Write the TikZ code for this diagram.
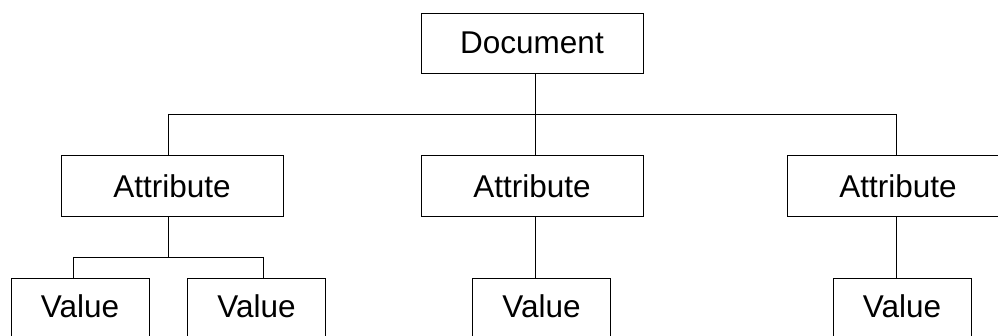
\documentclass[tikz,border=0pt]{standalone}
\usepackage{fontspec}
\setmainfont{Liberation Sans}
\begin{document}
\begin{tikzpicture}[x=1pt,y=-1pt,
  label/.style={font=\fontsize{31.5}{36}\selectfont},
  box/.style={draw=black,line width=0.8pt,inner sep=0pt,label},
  docbox/.style={box,minimum width=222pt,minimum height=60pt},
  attrbox/.style={box,minimum width=222pt,minimum height=61pt},
  valbox/.style={box,minimum width=138pt,minimum height=90pt},
  link/.style={draw=black,line width=0.8pt}]
\useasboundingbox (0,0) rectangle (998,336);
\clip (0,0) rectangle (998,336);
% top level
\node[docbox] (doc) at (532,43) {Document};
% attributes
\node[attrbox] (a1) at (172,186) {Attribute};
\node[attrbox] (a2) at (532,186) {Attribute};
\node[attrbox] (a3) at (898,186) {Attribute};
% values (lower edge runs off the page)
\node[valbox,anchor=north] (v1) at (80,278) {};
\node[valbox,anchor=north] (v2) at (256.5,278) {};
\node[valbox,anchor=north] (v3) at (541.5,278) {};
\node[valbox,anchor=north] (v4) at (902,278) {};
\node[label] (t1) at (80,306) {Value};
\node[label] (t2) at (256.5,306) {Value};
\node[label] (t3) at (541.5,306) {Value};
\node[label] (t4) at (902,306) {Value};
% connector junction points
\coordinate (j0) at (535,114);
\coordinate (jL) at (168,114);
\coordinate (jR) at (896,114);
\coordinate (k1) at (73,257);
\coordinate (k2) at (263,257);
\coordinate (kc) at (168,257);
% document to attributes
\draw[link] (doc.south -| j0) -- (j0);
\draw[link] (jL) -- (jR);
\draw[link] (jL) -- (a1.north -| jL);
\draw[link] (j0) -- (a2.north -| j0);
\draw[link] (jR) -- (a3.north -| jR);
% attributes to values
\draw[link] (a1.south -| kc) -- (kc);
\draw[link] (k1) -- (k2);
\draw[link] (k1) -- (v1.north -| k1);
\draw[link] (k2) -- (v2.north -| k2);
\draw[link] (a2.south -| j0) -- (v3.north -| j0);
\draw[link] (a3.south -| jR) -- (v4.north -| jR);
\end{tikzpicture}
\end{document}
